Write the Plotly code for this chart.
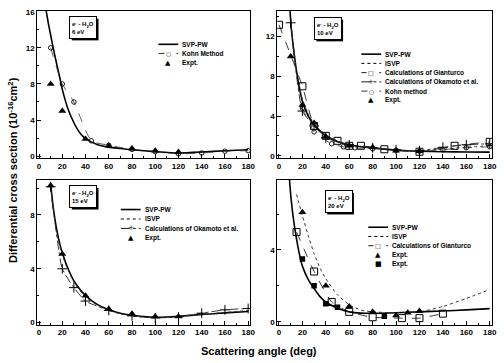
import plotly.graph_objects as go

W, H = 504, 363
FONT = "Liberation Sans"

# ---------------- data ----------------
x_ticks = [0, 20, 40, 60, 80, 100, 120, 140, 160, 180]

# Panel 1 : 6 eV
p1_svp_x = [6, 8, 10, 12, 15, 18, 20, 25, 30, 35, 40, 50, 60, 70, 80, 100, 120, 140, 160, 180]
p1_svp_y = [16.2, 14.7, 13.4, 12.1, 10.3, 8.6, 7.4, 5.2, 3.7, 2.6, 1.95, 1.3, 1.0, 0.85, 0.7, 0.5, 0.35, 0.45, 0.6, 0.7]
p1_kohn_x = [10, 20, 30, 45, 60, 80, 100, 120, 140, 160, 180]
p1_kohn_y = [12.0, 8.0, 6.0, 1.7, 1.2, 0.75, 0.5, 0.25, 0.35, 0.55, 0.6]
p1_exp_x = [10, 20, 40, 60, 80, 100, 120]
p1_exp_y = [8.0, 5.0, 1.9, 1.15, 0.85, 0.6, 0.45]

# Panel 2 : 10 eV
p2_svp_x = [9.5, 10, 12, 15, 18, 20, 25, 30, 35, 40, 50, 60, 70, 80, 100, 120, 140, 160, 180]
p2_svp_y = [14.6, 13.6, 11.2, 8.5, 6.5, 5.5, 4.0, 3.1, 2.5, 2.0, 1.4, 1.1, 0.9, 0.8, 0.55, 0.45, 0.4, 0.38, 0.36]
p2_isvp_x = [10, 12, 15, 18, 20, 25, 30, 35, 40, 50, 60, 70, 80, 100, 120, 140, 160, 180]
p2_isvp_y = [13.8, 11.4, 8.7, 6.7, 5.7, 4.2, 3.2, 2.6, 2.1, 1.45, 1.1, 0.9, 0.8, 0.55, 0.5, 0.65, 0.85, 1.0]
p2_gian_x = [0, 20, 30, 40, 50, 60, 70, 90, 120, 150, 180]
p2_gian_y = [13.2, 7.0, 3.0, 2.0, 1.5, 1.0, 1.0, 0.65, 0.4, 1.0, 1.4]
p2_oka_x = [10, 20, 30, 40, 60, 80, 100, 120, 140, 160, 180]
p2_oka_y = [13.4, 4.5, 3.0, 1.8, 1.1, 0.8, 0.6, 0.5, 0.85, 1.1, 1.2]
p2_kohn_x = [20, 30, 45, 55, 65, 80, 100, 120, 140, 160, 180]
p2_kohn_y = [4.8, 2.4, 1.2, 0.9, 0.8, 0.7, 0.55, 0.45, 0.6, 0.8, 0.9]
p2_exp_x = [10, 20, 30, 40, 60, 80, 100, 120]
p2_exp_y = [10.0, 5.1, 3.3, 1.9, 1.0, 0.85, 0.5, 0.45]

# Panel 3 : 15 eV
p3_svp_x = [10, 12, 15, 18, 20, 25, 30, 35, 40, 50, 60, 70, 80, 90, 100, 110, 120, 140, 160, 180]
p3_svp_y = [10.3, 8.7, 7.0, 5.8, 5.2, 4.0, 3.1, 2.5, 2.0, 1.35, 0.95, 0.7, 0.55, 0.45, 0.4, 0.42, 0.47, 0.6, 0.72, 0.82]
p3_isvp_y = [10.0, 8.5, 6.8, 5.6, 5.0, 3.9, 3.0, 2.4, 1.9, 1.3, 0.9, 0.65, 0.5, 0.4, 0.37, 0.4, 0.45, 0.6, 0.75, 0.9]
p3_oka_x = [10, 20, 30, 40, 60, 80, 100, 120, 140, 160, 180]
p3_oka_y = [10.1, 4.0, 2.6, 1.6, 0.9, 0.5, 0.35, 0.42, 0.7, 0.95, 1.05]
p3_exp_x = [10, 20, 40, 60, 80, 100, 120]
p3_exp_y = [10.2, 5.1, 2.0, 1.0, 0.65, 0.45, 0.45]

# Panel 4 : 20 eV
p4_svp_x = [9, 10, 12, 15, 18, 20, 25, 30, 35, 40, 50, 60, 70, 80, 100, 120, 140, 160, 180]
p4_svp_y = [7.9, 7.1, 5.9, 4.6, 3.6, 3.1, 2.35, 1.85, 1.4, 1.1, 0.75, 0.55, 0.48, 0.47, 0.5, 0.55, 0.6, 0.66, 0.73]
p4_isvp_x = [15, 20, 25, 30, 35, 40, 50, 60, 70, 80, 100, 120, 140, 160, 180]
p4_isvp_y = [7.1, 5.9, 4.8, 3.8, 3.0, 2.4, 1.5, 0.95, 0.65, 0.55, 0.5, 0.55, 0.85, 1.3, 1.8]
p4_gian_x = [15, 30, 45, 60, 80, 105, 120, 140]
p4_gian_y = [5.0, 2.8, 1.1, 0.55, 0.25, 0.2, 0.2, 0.45]
p4_exp1_x = [20, 40, 60, 80, 100, 110, 120]
p4_exp1_y = [6.1, 2.0, 0.85, 0.55, 0.35, 0.5, 0.6]
p4_exp2_x = [20, 30, 40, 50, 90]
p4_exp2_y = [3.5, 2.0, 1.0, 0.8, 0.3]

energies = ["6 eV", "10 eV", "15 eV", "20 eV"]

# ---------------- styles ----------------
STY = {
    "svp": dict(mode="lines", line=dict(color="black", width=1.6, shape="spline", smoothing=0.6)),
    "isvp": dict(mode="lines", line=dict(color="#333", width=1, dash="dot", shape="spline", smoothing=0.6)),
    "kohn": dict(mode="lines+markers", line=dict(color="#333", width=0.8, dash="dash", shape="spline", smoothing=0.5),
                 marker=dict(symbol="circle-open", size=4.5, color="black", line=dict(width=0.9))),
    "gian": dict(mode="lines+markers", line=dict(color="#222", width=0.9, dash="dash", shape="spline", smoothing=0.5),
                 marker=dict(symbol="square-open", size=7, color="black", line=dict(width=1))),
    "oka": dict(mode="lines+markers", line=dict(color="#222", width=0.9, dash="dashdot", shape="spline", smoothing=0.5),
                marker=dict(symbol="cross-thin", size=7, color="black", line=dict(width=1, color="black"))),
    "exp": dict(mode="markers", marker=dict(symbol="triangle-up", size=7, color="black")),
    "exp2": dict(mode="markers", marker=dict(symbol="square", size=5.5, color="black")),
}

panels = {
    1: [("svp", p1_svp_x, p1_svp_y), ("kohn", p1_kohn_x, p1_kohn_y), ("exp", p1_exp_x, p1_exp_y)],
    2: [("svp", p2_svp_x, p2_svp_y), ("isvp", p2_isvp_x, p2_isvp_y), ("gian", p2_gian_x, p2_gian_y),
        ("oka", p2_oka_x, p2_oka_y), ("kohn", p2_kohn_x, p2_kohn_y), ("exp", p2_exp_x, p2_exp_y)],
    3: [("svp", p3_svp_x, p3_svp_y), ("isvp", p3_svp_x, p3_isvp_y), ("oka", p3_oka_x, p3_oka_y),
        ("exp", p3_exp_x, p3_exp_y)],
    4: [("svp", p4_svp_x, p4_svp_y), ("isvp", p4_isvp_x, p4_isvp_y), ("gian", p4_gian_x, p4_gian_y),
        ("exp", p4_exp1_x, p4_exp1_y), ("exp2", p4_exp2_x, p4_exp2_y)],
}

legend_labels = {
    1: [("svp", "SVP-PW"), ("kohn", "Kohn Method"), ("exp", "Expt.")],
    2: [("svp", "SVP-PW"), ("isvp", "ISVP"), ("gian", "Calculations of Gianturco"),
        ("oka", "Calculations of Okamoto et al."), ("kohn", "Kohn method"), ("exp", "Expt.")],
    3: [("svp", "SVP-PW"), ("isvp", "ISVP"), ("oka", "Calculations of Okamoto et al."), ("exp", "Expt.")],
    4: [("svp", "SVP-PW"), ("isvp", "ISVP"), ("gian", "Calculations of Gianturco"), ("exp", "Expt."), ("exp2", "Expt.")],
}

# ---------------- layout geometry (pixels) ----------------
frames = {1: (37.7, 253, 8, 158), 2: (280, 497, 8, 158), 3: (37.7, 253, 180, 327), 4: (280, 497, 180, 327)}
yranges = {1: [-0.25, 16.1], 2: [-0.27, 14.6], 3: [-0.15, 10.6], 4: [-0.16, 7.9]}
legend_pos = {1: (160, 42, 9.3), 2: (365, 52, 9.4), 3: (122, 210, 9.6), 4: (372, 228, 9.4)}
box_pos = {1: (84, 25), 2: (331, 26), 3: (84, 197), 4: (342, 202)}
BOX_W, BOX_H, BOX_PAD = 22, 17, 2


def px(x, y):
    return x / W, 1 - y / H


fig = go.Figure()
layout = dict(width=W, height=H, margin=dict(l=0, r=0, t=0, b=0), paper_bgcolor="white",
              plot_bgcolor="white", showlegend=False, font=dict(family=FONT, color="black"))
shapes, annos = [], []

for i in range(1, 5):
    xa = "x" if i == 1 else f"x{i}"
    ya = "y" if i == 1 else f"y{i}"
    for key, xs, ys in panels[i]:
        fig.add_trace(go.Scatter(x=xs, y=ys, xaxis=xa, yaxis=ya, cliponaxis=True, **STY[key]))
    l, r, t, b = frames[i]
    axcommon = dict(showline=True, linecolor="black", linewidth=1, mirror=True, ticks="inside",
                    ticklen=4, tickwidth=1, tickcolor="black", showgrid=False, zeroline=False,
                    tickfont=dict(family=FONT, size=8, color="black", weight="bold"))
    layout["xaxis" if i == 1 else f"xaxis{i}"] = dict(
        domain=[l / W, r / W], anchor=ya, range=[-1.5, 182], tickvals=x_ticks,
        minor=dict(ticks="inside", dtick=10, ticklen=2, tickcolor="black"), **axcommon)
    layout["yaxis" if i == 1 else f"yaxis{i}"] = dict(
        domain=[1 - b / H, 1 - t / H], anchor=xa, range=yranges[i], dtick=4,
        minor=dict(ticks="inside", dtick=2, ticklen=2, tickcolor="black"), **axcommon)

    # legend drawn by hand
    lx, ly, step = legend_pos[i]
    for k, (key, label) in enumerate(legend_labels[i]):
        yy = ly + k * step
        st = STY[key]
        if "lines" in st["mode"]:
            x0, y0 = px(lx, yy)
            x1, _ = px(lx + 20, yy)
            shapes.append(dict(type="line", xref="paper", yref="paper", x0=x0, x1=x1, y0=y0, y1=y0,
                               line=dict(color="black", width=st["line"]["width"],
                                         dash=st["line"].get("dash", "solid"))))
        glyph = {"kohn": "○", "gian": "□", "oka": "+", "exp": "▲", "exp2": "■"}.get(key)
        if glyph:
            gx, gy = px(lx + 10, yy)
            annos.append(dict(x=gx, y=gy, xref="paper", yref="paper", text=glyph, showarrow=False,
                              xanchor="center", yanchor="middle", bgcolor="white" if key in ("kohn", "gian") else None,
                              font=dict(family="DejaVu Sans", size=6 if key in ("kohn", "gian") else 7,
                                        color="black")))
        tx, ty = px(lx + 22, yy)
        annos.append(dict(x=tx, y=ty, xref="paper", yref="paper", text=label, showarrow=False,
                          xanchor="left", yanchor="middle",
                          font=dict(family=FONT, size=6.5, color="black", weight="bold")))

    # label box with drop shadow
    cx, cy = box_pos[i]
    ow, oh = BOX_W + 2 * BOX_PAD + 1, BOX_H + 2 * BOX_PAD + 1
    s0x, s0y = px(cx - ow / 2 + 2, cy + oh / 2 + 2)
    s1x, s1y = px(cx + ow / 2 + 2, cy - oh / 2 + 2)
    shapes.append(dict(type="rect", xref="paper", yref="paper", x0=s0x, y0=s0y, x1=s1x, y1=s1y,
                       fillcolor="black", line=dict(width=0), layer="above"))
    bx, by = px(cx, cy)
    annos.append(dict(x=bx, y=by, xref="paper", yref="paper",
                      text="e<sup>-</sup> - H<sub>2</sub>O<br>" + energies[i - 1], showarrow=False,
                      align="left", xanchor="center", yanchor="middle", width=BOX_W, height=BOX_H,
                      bgcolor="white", bordercolor="black", borderwidth=1, borderpad=BOX_PAD,
                      font=dict(family=FONT, size=6, color="black", weight="bold")))

# axis titles
ax_, ay_ = px(13, 170)
annos.append(dict(x=ax_, y=ay_, xref="paper", yref="paper", showarrow=False, textangle=-90,
                  xanchor="center", yanchor="middle",
                  text="Differential cross section (10<sup>-16</sup>cm<sup>2</sup>)",
                  font=dict(family=FONT, size=11, color="black", weight="bold")))
bx_, by_ = px(262, 362)
annos.append(dict(x=bx_, y=by_, xref="paper", yref="paper", showarrow=False,
                  xanchor="center", yanchor="bottom",
                  text="Scattering angle (deg)",
                  font=dict(family=FONT, size=11, color="black", weight="bold")))

layout["shapes"] = shapes
layout["annotations"] = annos
fig.update_layout(**layout)
fig.write_html("out.html")
